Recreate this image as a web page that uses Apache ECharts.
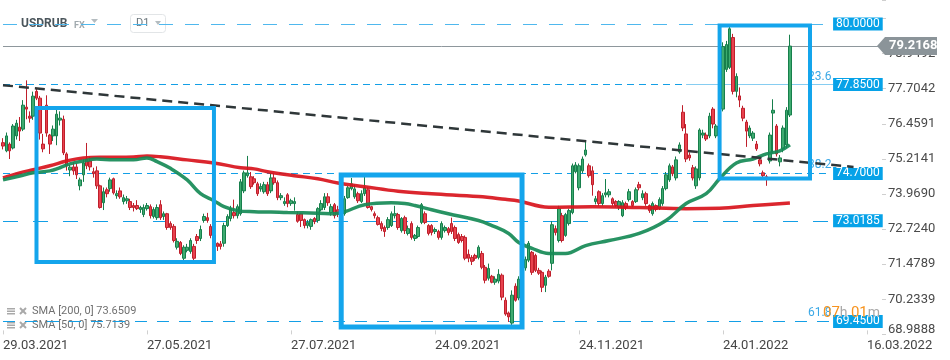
<!DOCTYPE html>
<html><head><meta charset="utf-8">
<script src="https://cdn.jsdelivr.net/npm/echarts@6/dist/echarts.min.js"></script>
<style>html,body{margin:0;padding:0;background:#fff}#c{width:950px;height:360px}</style>
</head><body><div id="c"></div>
<script>
// Daily candles USDRUB, first bar 29.03.2021, last bar 21.02.2022. [open, close, low, high]
const candles = [
[75.79,75.67,75.55,75.95],[75.50,76.03,75.45,76.15],[75.74,75.50,75.21,75.80],[75.60,76.38,75.55,76.45],[76.03,76.48,75.90,76.60],
[76.34,76.20,75.85,76.70],[76.27,77.12,76.20,77.30],[77.05,76.98,76.62,78.00],[76.73,76.66,76.50,76.90],[76.73,77.44,76.60,77.60],
[77.61,77.37,77.30,77.72],[77.37,76.13,75.90,77.45],[75.74,75.57,75.45,76.10],[77.12,76.13,76.00,77.47],[76.06,75.74,75.39,76.10],
[76.03,76.27,75.85,76.40],[76.03,76.80,75.70,77.00],[76.59,76.66,76.40,76.90],[76.62,75.43,75.35,76.75],[75.39,74.97,74.80,75.45],
[74.82,74.92,74.60,75.00],[74.93,74.79,74.65,75.10],[74.93,74.65,74.50,75.05],[74.26,74.47,74.10,74.55],[74.65,75.07,74.40,75.20],
[75.21,74.97,74.85,75.78],[75.14,74.93,74.80,75.30],[74.76,74.69,74.55,74.90],[74.79,74.26,74.15,74.95],[74.26,73.49,73.45,74.30],
[73.66,74.05,73.40,74.20],[74.12,73.98,73.85,74.20],[74.16,74.47,74.05,74.55],[74.51,74.01,73.95,74.55],[73.91,73.98,73.80,74.10],
[74.08,73.87,73.80,74.20],[73.70,73.84,73.60,73.95],[73.73,73.80,73.62,73.90],[73.70,73.49,73.40,73.80],[73.56,73.49,73.35,73.65],
[73.56,73.45,73.40,73.75],[73.42,73.49,73.30,73.55],[73.24,73.49,73.15,73.60],[73.45,73.56,73.38,73.65],[73.52,73.20,73.10,73.60],
[73.17,73.42,73.10,73.50],[73.13,73.49,73.05,73.60],[73.59,73.13,73.05,73.75],[73.17,73.27,73.05,73.35],[73.27,72.78,72.70,73.30],
[72.92,72.78,72.70,73.00],[72.82,72.32,72.25,72.90],[72.08,72.29,72.00,72.40],[72.25,71.86,71.80,72.30],[71.69,72.08,71.62,72.15],
[71.97,72.08,71.90,72.20],[71.93,72.32,71.85,72.40],[72.11,71.69,71.62,72.20],[72.46,72.32,72.20,72.55],[72.39,72.71,72.30,72.85],
[73.03,73.17,72.95,73.27],[73.13,73.03,72.95,73.30],[72.82,72.50,72.40,72.90],[72.50,72.22,72.15,72.55],[72.22,72.11,71.95,72.25],
[72.20,72.11,72.00,72.30],[72.22,72.85,72.10,72.95],[72.85,73.17,72.80,73.25],[73.10,73.45,73.00,73.55],[73.31,73.20,73.10,73.77],
[73.20,73.52,73.10,73.60],[73.27,74.40,73.20,74.50],[74.08,74.72,74.00,74.80],[74.62,74.72,74.55,75.32],[74.58,74.23,74.15,74.75],
[74.51,74.37,74.30,74.60],[74.33,73.98,73.90,74.40],[74.15,74.23,74.05,74.35],[74.05,74.30,73.98,74.40],[74.30,73.98,73.90,74.40],
[74.08,74.54,74.00,74.72],[74.54,74.37,74.30,74.70],[74.37,73.84,73.75,74.45],[73.84,73.91,73.75,74.00],[73.63,73.70,73.55,73.85],
[73.94,73.63,73.50,74.00],[73.63,73.73,73.55,73.80],[73.63,73.70,73.38,73.85],[73.24,73.00,72.95,73.35],[73.27,73.03,72.80,73.30],
[73.06,72.85,72.75,73.10],[72.85,72.96,72.75,73.05],[72.82,73.06,72.70,73.10],[73.10,72.99,72.90,73.15],[73.03,73.45,72.95,73.50],
[73.41,73.63,73.35,73.75],[73.49,73.87,73.40,74.00],[73.87,73.66,73.55,74.00],[73.31,73.52,73.20,73.62],[73.59,73.20,73.10,73.65],
[73.41,73.27,73.15,73.55],[73.38,73.24,73.15,73.45],[73.27,73.80,73.20,73.90],[73.84,74.19,73.80,74.25],[74.16,74.33,74.10,74.54],
[73.87,74.15,73.80,74.30],[73.98,73.73,73.65,74.05],[73.70,73.98,73.65,74.10],[73.98,74.19,73.90,74.66],[74.12,73.49,73.45,74.20],
[73.52,73.42,73.35,73.55],[73.27,73.20,73.10,73.35],[73.13,72.89,72.85,73.20],[72.92,72.74,72.65,73.00],[72.78,72.64,72.45,72.85],
[72.78,73.06,72.70,73.15],[72.85,73.27,72.80,73.35],[73.20,73.27,73.10,73.55],[73.24,72.78,72.70,73.30],[72.67,73.10,72.60,73.15],
[73.13,72.67,72.55,73.20],[72.57,72.74,72.50,72.85],[72.92,72.43,72.35,73.00],[72.39,72.50,72.30,72.55],[72.46,72.78,72.40,72.85],
[72.96,73.59,72.90,73.65],[73.27,72.96,72.90,73.35],[72.85,72.57,72.50,72.90],[72.85,72.60,72.50,72.90],[72.64,72.71,72.55,72.78],
[72.64,72.43,72.35,72.70],[72.43,72.92,72.35,73.00],[72.67,72.78,72.60,72.85],[72.74,72.60,72.50,72.80],[72.92,72.64,72.55,73.13],
[72.78,72.39,72.30,72.85],[72.53,72.25,72.20,72.60],[72.46,72.32,72.25,72.55],[72.43,71.69,71.62,72.50],[71.83,71.69,71.55,72.00],
[71.72,71.58,71.45,71.80],[71.79,71.69,71.60,71.85],[71.72,72.08,71.65,72.15],[71.86,71.37,71.30,71.95],[71.37,70.91,70.80,71.45],
[70.98,71.33,70.90,71.50],[71.05,70.84,70.80,71.10],[70.84,70.95,70.75,71.05],[70.88,71.12,70.80,71.30],[71.09,70.31,70.20,71.15],
[70.20,69.71,69.65,70.30],[69.75,69.61,69.43,69.80],[69.39,70.38,69.30,70.55],[70.70,70.20,70.15,70.80],[70.28,70.95,70.20,71.05],
[70.95,71.40,70.85,71.50],[71.35,71.65,71.25,71.75],[71.62,72.22,71.55,72.30],[71.90,71.19,71.10,71.95],[71.79,71.26,71.20,71.85],
[71.26,71.16,71.10,71.35],[71.19,70.66,70.49,71.25],[70.73,71.02,70.49,71.10],[71.23,71.05,71.00,71.30],[71.51,72.88,71.26,73.00],
[72.74,72.60,72.50,72.85],[72.32,73.45,72.25,73.55],[73.20,72.32,72.25,73.30],[72.50,73.24,72.45,73.30],[72.92,73.38,72.85,73.45],
[73.31,74.97,73.25,75.05],[74.76,75.00,74.70,75.10],[74.19,74.97,74.10,75.05],[74.79,75.21,74.70,75.30],[75.36,75.53,75.30,75.88],
[74.97,74.62,74.55,75.05],[74.79,74.30,73.91,74.95],[73.70,73.80,73.60,73.90],[74.05,73.63,73.55,74.10],[73.63,73.91,73.55,74.00],
[73.94,74.01,73.85,74.50],[73.94,74.05,73.85,74.15],[73.80,73.63,73.55,73.85],[73.70,73.56,73.50,73.75],[73.49,73.70,73.40,73.75],
[73.20,73.66,73.15,73.75],[73.63,73.49,73.40,73.70],[73.77,74.05,73.70,74.15],[73.70,73.56,73.50,73.75],[73.70,74.12,73.65,74.20],
[74.30,74.19,74.10,74.40],[73.84,73.98,73.75,74.10],[73.98,73.63,73.55,74.05],[73.56,73.38,73.30,73.60],[73.27,73.63,73.20,73.70],
[73.56,73.42,73.35,73.60],[73.45,73.77,73.40,73.85],[73.63,74.16,73.55,74.25],[74.16,74.65,74.10,74.75],[74.47,74.97,74.40,75.05],
[74.93,74.69,74.60,75.00],[74.54,75.18,74.45,75.30],[75.46,75.71,75.40,75.80],[76.87,76.31,76.20,77.12],[76.10,75.21,75.10,76.45],
[75.35,75.25,75.15,75.45],[74.90,74.54,74.45,75.00],[74.26,74.86,74.15,74.95],[74.54,76.24,74.45,76.30],[76.06,76.13,75.95,76.25],
[76.06,75.92,75.85,76.15],[76.03,76.73,75.95,76.85],[76.98,76.45,76.30,77.05],[76.03,76.38,75.95,76.45],[76.31,77.33,76.25,77.70],
[76.98,79.20,76.90,79.35],[78.39,79.27,78.30,79.40],[78.46,79.83,78.40,79.93],[79.52,77.61,77.50,79.65],[77.61,78.14,77.40,78.25],
[77.45,77.30,77.05,77.75],[77.01,76.66,76.55,77.10],[76.52,76.20,75.64,76.60],[76.03,76.31,75.95,76.40],[75.95,76.13,75.85,76.20],
[75.74,75.57,75.50,75.85],[75.18,75.04,74.95,75.25],[74.72,74.62,74.55,74.80],[74.58,74.54,74.26,74.65],[75.14,76.06,75.05,76.15],
[76.84,76.94,75.40,77.33],[76.38,75.39,75.30,76.45],[75.11,75.25,74.95,75.35],[75.57,76.31,75.45,76.40],[75.71,76.94,75.60,77.05],
[76.77,79.2168,76.70,79.62]
];
// SMA lines: [bar index, value]
const sma200 = [[0,74.54],[5,74.72],[9,74.83],[14,74.97],[19,75.14],[24,75.25],[29,75.27],[34,75.27],[39,75.28],[43,75.32],[47,75.29],[55,75.18],[63,75.07],[71,74.90],[75,74.86],[79,74.76],[87,74.62],[94,74.51],[100,74.36],[108,74.23],[118,74.07],[128,73.98],[142,73.88],[150,73.78],[154,73.72],[163,73.50],[176,73.52],[190,73.49],[204,73.45],[214,73.46],[224,73.56],[235,73.65]];
const sma50 = [[0,74.47],[5,74.61],[9,74.72],[14,74.79],[17,74.90],[20,75.04],[24,75.14],[28,75.21],[33,75.18],[39,75.18],[43,75.25],[46,75.12],[50,74.88],[55,74.47],[59,73.98],[63,73.73],[66,73.52],[70,73.38],[75,73.34],[80,73.33],[85,73.31],[94,73.29],[99,73.27],[102,73.34],[108,73.59],[116,73.66],[120,73.63],[123,73.56],[128,73.41],[133,73.27],[142,73.03],[146,72.85],[151,72.57],[154,72.25],[158,72.04],[163,71.86],[168,71.86],[174,72.14],[181,72.32],[190,72.57],[198,73.03],[204,73.63],[210,73.98],[214,74.51],[219,75.07],[224,75.21],[228,75.39],[232,75.50],[235,75.71]];
const categoryCount = 263;
const xTickLabels = [[0,'29.03.2021'],[43,'27.05.2021'],[86,'27.07.2021'],[129,'24.09.2021'],[172,'24.11.2021'],[215,'24.01.2022'],[258,'16.03.2022']];
const yMin = 68.9888, yMax = 80.851, yStep = 1.24505;
const yTickLabels = ['68.9888','70.2339','71.4789','72.7240','73.9690','75.2141','76.4591','77.7042','78.9492'];
const levelValues = [80.0, 77.85, 74.70, 73.0185, 69.45];
const levelTexts = ['80.0000','77.8500','74.7000','73.0185','69.4500'];
const fibValues = [77.85, 74.70, 69.45];
const fibTexts = ['23.6','38.2','61.8'];
const lastPrice = 79.2168;
const trendLine = [[0,77.83],[254,74.93]];
// boxes: [first bar, last bar, top value, bottom value]
const boxes = [[10,63,77.02,71.56],[101,155,74.64,69.25],[214,241,79.95,74.52]];
const smaLegend = ['SMA [200, 0] 73.6509','SMA [50, 0] 75.7139'];

// ---- styles ----
const levelDash = [[14,12],[7,5],[7,5],[15,15],[12,10]];
const levelColor = ['#4fb8ee','#139fe6','#139fe6','#139fe6','#139fe6'];
const boxWidths = [4,5,4];
const LEVEL_END = 247, FIB_START = 204, FIB_END = 248, PRICE_END = 262;

const cats = Array.from({length: categoryCount}, (_, i) => String(i));
const xLabelMap = new Map(xTickLabels);

const chart = echarts.init(document.getElementById('c'), null, {renderer: 'canvas'});

const markLineData = [];
markLineData.push([
  {coord:[0, lastPrice], lineStyle:{color:'#8e979c', width:1, type:'solid'}, label:{show:false}},
  {coord:[PRICE_END, lastPrice]}
]);
levelValues.forEach((v, k) => {
  markLineData.push([
    {coord:[0, v], lineStyle:{color:levelColor[k], width:1, type:levelDash[k]},
     label:{show:true, position:'end', distance:3, formatter:levelTexts[k], color:'#fff', backgroundColor:'#06a2e8',
            padding:[1,3,0,3], fontSize:12, lineHeight:12, fontFamily:'Roboto'}},
    {coord:[LEVEL_END, v]}
  ]);
});
fibValues.forEach((v, k) => {
  markLineData.push([
    {coord:[FIB_START, v], lineStyle:{color: k === 0 ? '#86cdf1' : 'rgba(255,255,255,0)', width:1, type:'solid'},
     label:{show:true, position:'insideEndTop', distance:2, formatter:fibTexts[k], color:'#3aa8e6', fontSize:12, fontFamily:'Roboto'}},
    {coord:[FIB_END, v]}
  ]);
});

const series = [
  {
    type:'candlestick', data: candles, barWidth: 3, z: 3,
    itemStyle:{color:'#3eab70', color0:'#e8424e', borderColor:'#177f4c', borderColor0:'#bf1f2b', borderWidth:1},
    markLine:{silent:true, symbol:['none','none'], animation:false, data: markLineData, z: 1}
  },
  {type:'line', data: sma200, smooth:0.4, symbol:'none', z:4, lineStyle:{color:'#d8141c', width:3.5, opacity:0.92}},
  {type:'line', data: sma50, smooth:0.4, symbol:'none', z:4, lineStyle:{color:'#168a56', width:3.5, opacity:0.92}},
  {type:'line', data: trendLine, symbol:'none', z:5, lineStyle:{color:'#2f3739', width:2.5, type:[10,6]}}
];
boxes.forEach((b, k) => {
  series.push({
    type:'line', symbol:'none', z:6, silent:true,
    data:[[b[0],b[2]],[b[1],b[2]],[b[1],b[3]],[b[0],b[3]],[b[0],b[2]]],
    lineStyle:{color:'#14a5ec', width: boxWidths[k], cap:'square', join:'miter'}
  });
});

const legendGraphics = [];
smaLegend.forEach((t, k) => {
  const y0 = 308 + k * 14;
  [0, 2.5, 5].forEach(d => legendGraphics.push({type:'rect', shape:{x:7, y:y0 + d, width:8, height:1.5}, style:{fill:'#a9a9a9'}}));
  legendGraphics.push({type:'line', shape:{x1:20, y1:y0, x2:26, y2:y0 + 6}, style:{stroke:'#a9a9a9', lineWidth:2}});
  legendGraphics.push({type:'line', shape:{x1:26, y1:y0, x2:20, y2:y0 + 6}, style:{stroke:'#a9a9a9', lineWidth:2}});
  legendGraphics.push({type:'text', left:32, top:y0 - 2, style:{text:t, font:'11px Roboto', fill:'#707070'}});
});

const option = {
  animation:false,
  backgroundColor:'#fff',
  textStyle:{fontFamily:'Roboto'},
  grid:{left:1.3, right:68, top:0, bottom:25.6, containLabel:false},
  xAxis:{
    type:'category', data: cats, boundaryGap:true,
    axisLine:{show:false},
    axisTick:{show:true, inside:true, length:4, alignWithLabel:true, lineStyle:{color:'#d0d0d0'},
              interval:(i) => xLabelMap.has(i)},
    axisLabel:{show:true, align:'left', margin:5, fontSize:13, color:'#454545',
               interval:(i) => xLabelMap.has(i), formatter:(v, i) => xLabelMap.get(i) || ''},
    splitLine:{show:false}
  },
  yAxis:{
    type:'value', position:'right', min:yMin, max:yMax, interval:yStep, scale:true,
    axisLine:{show:false},
    axisTick:{show:true, length:4, lineStyle:{color:'#cfcfcf'}},
    splitLine:{show:false},
    axisLabel:{
      show:true, margin:6, fontSize:13, color:'#4a4a4a',
      formatter:(v) => {
        const k = Math.round((v - yMin) / yStep);
        if (Math.abs(v - (yMin + k * yStep)) > 1e-3 || k < 0 || k >= yTickLabels.length) return '';
        return k === 0 ? '{lo|' + yTickLabels[k] + '}' : yTickLabels[k];
      },
      rich:{lo:{fontSize:13, color:'#4a4a4a', padding:[0,0,10,0]}}
    }
  },
  series: series,
  graphic: [
    {type:'text', left:21, top:18, style:{text:'USDRUB', font:'bold 12px Roboto', fill:'#4a555b'}},
    {type:'text', left:74, top:21, style:{text:'FX', font:'bold 9px Roboto', fill:'#a0a9ae'}},
    {type:'polygon', shape:{points:[[91,19],[98,19],[94.5,23]]}, style:{fill:'#b4bcc0'}},
    {type:'rect', shape:{x:130.5, y:14.5, width:35, height:18, r:3}, style:{fill:'rgba(255,255,255,0)', stroke:'#e2e5e7'}},
    {type:'text', left:136, top:18, style:{text:'D1', font:'11px Roboto', fill:'#6b767c'}},
    {type:'polygon', shape:{points:[[155,21],[161,21],[158,25]]}, style:{fill:'#b4bcc0'}},
    {type:'text', left:823, top:306, z:50, style:{
      text:'{o|07}{g|h} {o|01}{g|m}',
      rich:{o:{fontSize:15, fill:'#f7931e', fontFamily:'Roboto'}, g:{fontSize:14, fill:'#a8a8a8', fontFamily:'Roboto'}}
    }}
  ].concat(legendGraphics)
};
chart.setOption(option);

// price tag on the last close, positioned through the y axis scale
const yp = chart.convertToPixel({yAxisIndex:0}, lastPrice);
chart.setOption({graphic: option.graphic.concat([
  {type:'polygon', z:100, shape:{points:[[877,yp],[885,yp-9],[937,yp-9],[937,yp+9],[885,yp+9]]}, style:{fill:'#8b9499'}},
  {type:'text', z:101, x:889, y:yp, style:{text: lastPrice.toFixed(4), font:'bold 13px Roboto', fill:'#fff', verticalAlign:'middle'}}
])}, {replaceMerge:['graphic']});
</script></body></html>
